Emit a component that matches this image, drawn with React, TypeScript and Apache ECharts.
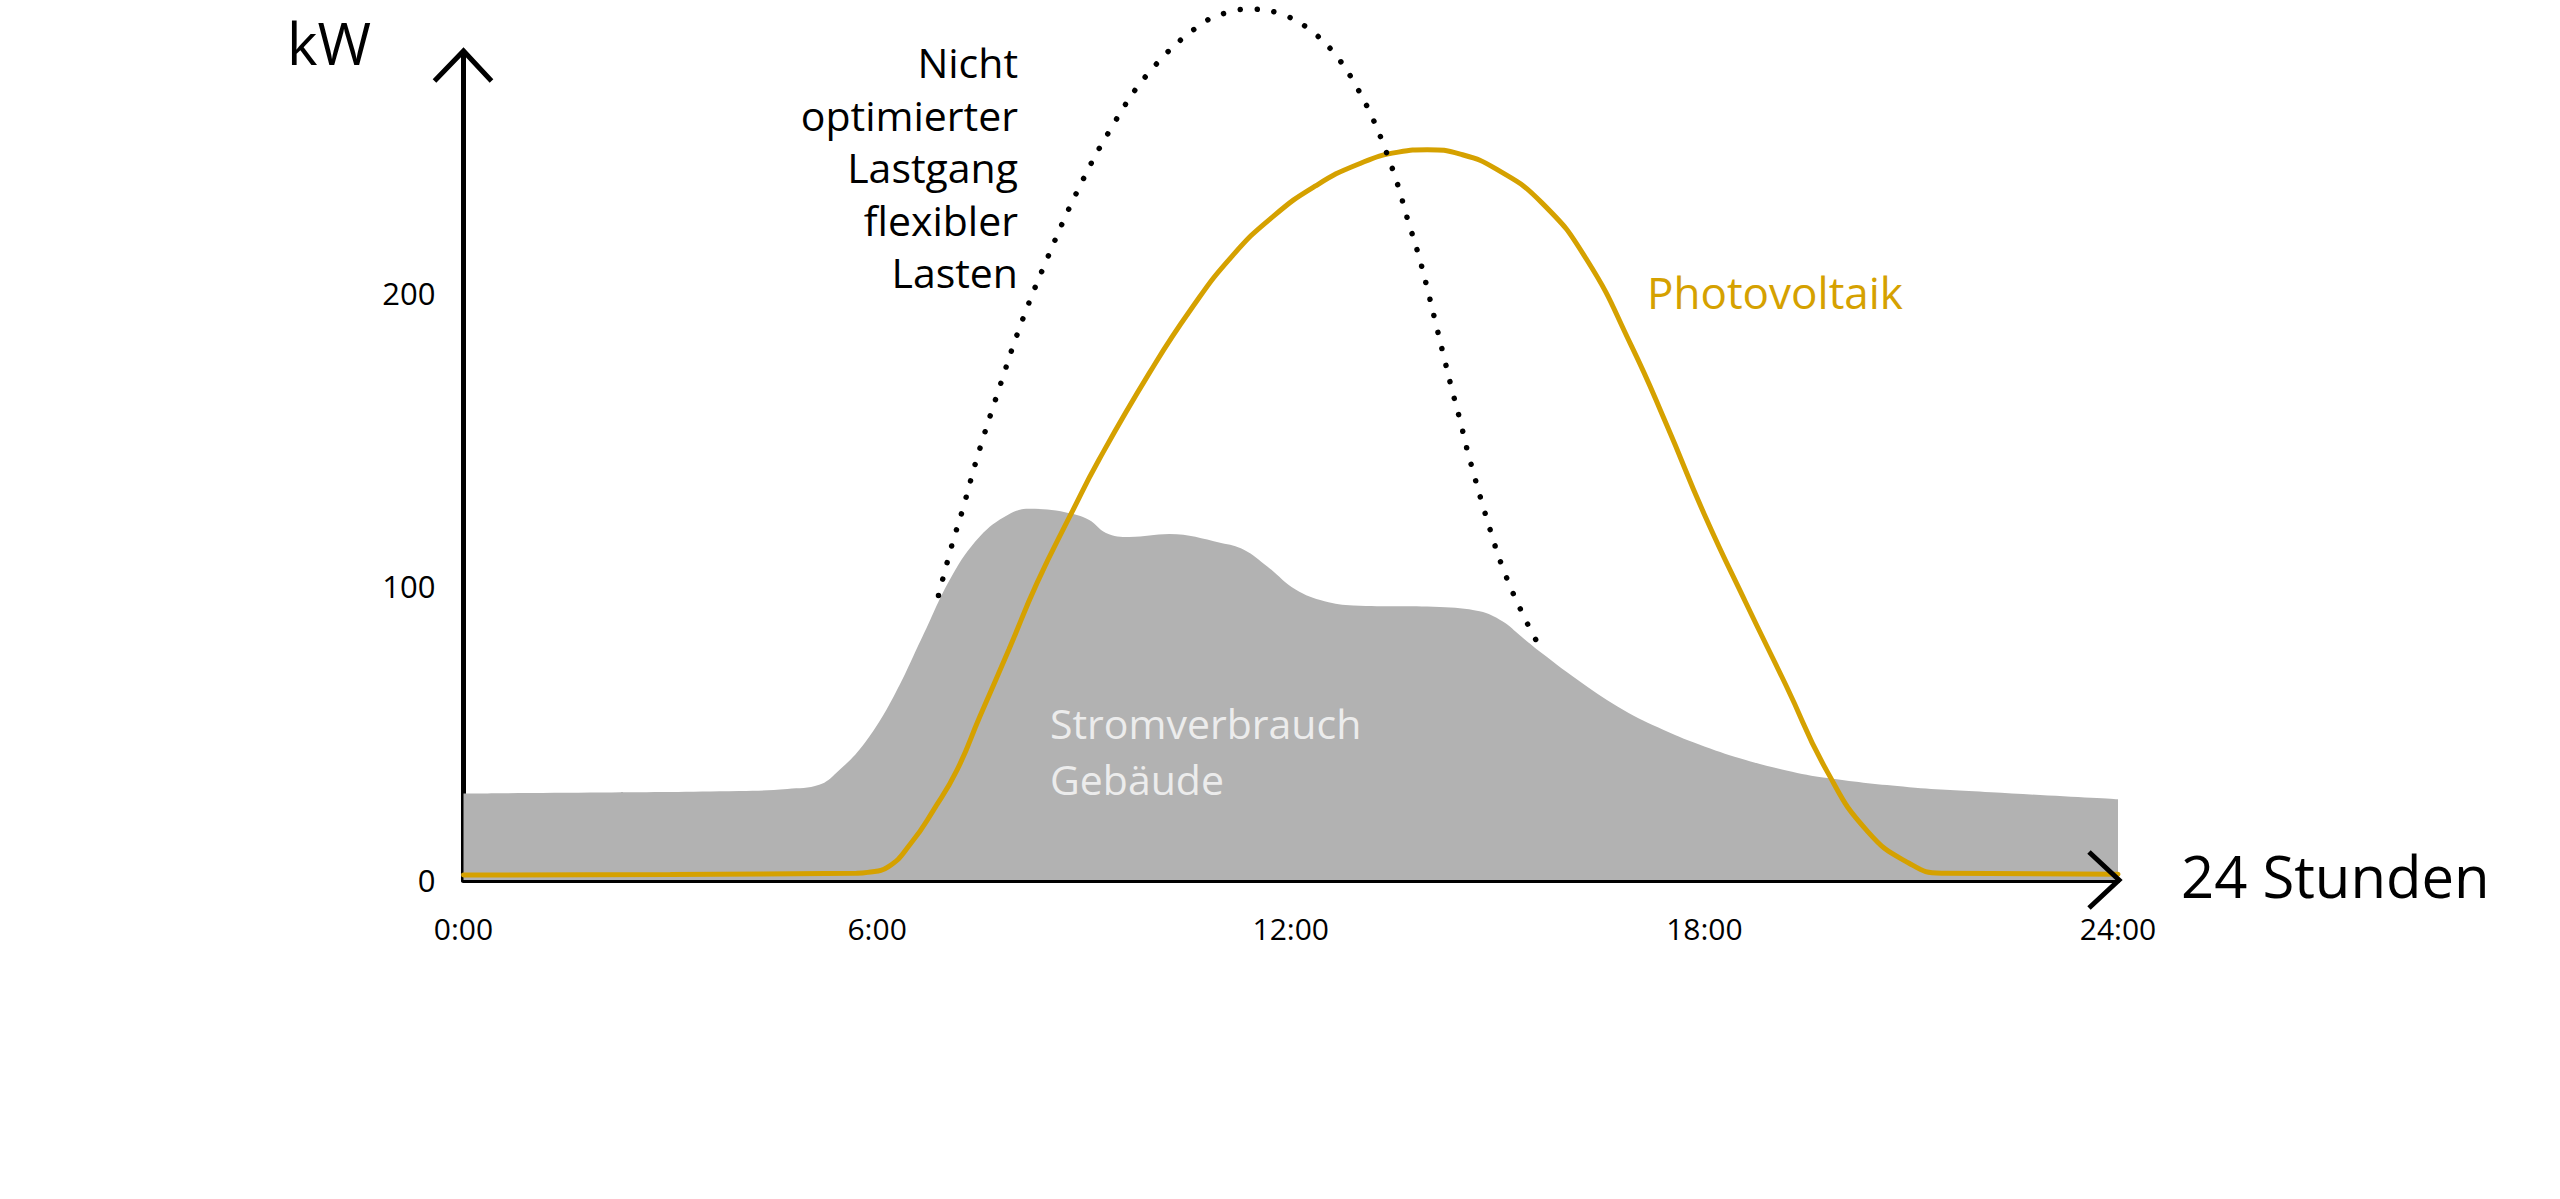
import React, { useEffect, useRef } from "react";
import * as echarts from "echarts";

// x axis: hours of the day
const hourTicks = [0, 6, 12, 18, 24];
const yTicks = [0, 100, 200];
const yMax = 282;

// Grey area: building consumption (kW)
const buildingHours = [0, 2, 4, 4.7, 5.16, 5.41, 5.82, 6.24, 6.66, 7.08, 7.49, 7.9, 8.2, 8.74, 9.07, 9.32, 9.66, 10.24, 10.99, 11.32, 11.66, 12.07, 12.49, 12.91, 14.16, 14.74, 15.07, 15.34, 15.64, 16.23, 16.82, 17.41, 18.0, 18.6, 19.19, 19.78, 20.97, 22.16, 24];
const buildingLoad = [29.5, 29.8, 30.3, 31.0, 32.4, 36.5, 46.7, 62.5, 83, 103.4, 117, 124.4, 126.4, 125.2, 122.7, 118.2, 116.8, 117.8, 114.8, 112.5, 106.8, 98.9, 94.9, 93.5, 93, 91.5, 88.1, 83, 77.3, 67, 58, 51.1, 45.5, 40.9, 37.3, 34.7, 31.6, 29.9, 27.5];

// Photovoltaik (kW)
const pvHours = [0, 3, 5.7, 5.86, 6.16, 6.49, 6.82, 7.16, 7.49, 7.91, 8.32, 8.82, 9.22, 9.95, 10.55, 11.15, 11.75, 12.36, 12.96, 13.56, 13.98, 14.46, 14.99, 15.64, 16.29, 16.94, 17.46, 18.0, 18.6, 19.19, 19.78, 20.37, 20.97, 21.44, 24];
const pvPower = [1.7, 1.9, 2.3, 2.6, 4.5, 12.5, 23.9, 37.5, 55.7, 78.4, 101.2, 125, 143.2, 172.7, 194.3, 212.5, 226.1, 236.4, 243.6, 247.9, 248.7, 247.2, 242, 230.7, 211.4, 182, 154.6, 124.5, 94.5, 66, 37, 16.5, 5.7, 2.3, 2];

// Non-optimised load profile of flexible loads (kW)
const flexHours = [6.89, 7.09, 7.24, 7.45, 7.76, 8.09, 8.47, 8.89, 9.37, 9.95, 10.7, 11.17, 11.42, 11.91, 12.34, 12.69, 12.96, 13.19, 13.38, 13.55, 13.69, 13.84, 13.97, 14.09, 14.21, 14.33, 14.46, 14.58, 14.86, 15.1, 15.41, 15.65];
const flexLoad = [96.9, 114.5, 126.1, 143.8, 166.7, 189.6, 211.8, 233.9, 255.1, 275.2, 291.5, 296, 296.6, 294.5, 288.4, 279.8, 269.9, 259.3, 248.3, 236.9, 225.4, 214, 202.5, 190.9, 179.3, 167.8, 156.2, 144.7, 121.8, 104.8, 88.4, 77.8];

const yUnit = "kW";
const xTitle = "24 Stunden";
const flexLabel = "Nicht\noptimierter\nLastgang\nflexibler\nLasten";
const pvLabel = "Photovoltaik";
const buildingLabel1 = "Stromverbrauch";
const buildingLabel2 = "Gebäude";

const FONT = "'Open Sans', sans-serif";
const PV_COLOR = "#d5a100";
const GREY = "#b2b2b2";

const zip = (xs: number[], ys: number[]) => xs.map((x, i) => [x, ys[i]]);

export default function App() {
  const ref = useRef<HTMLDivElement>(null);

  useEffect(() => {
    if (!ref.current) return;
    const chart = echarts.init(ref.current, undefined, { renderer: "svg" });
    chart.setOption({
      animation: false,
      backgroundColor: "#ffffff",
      grid: { left: 463.5, right: 442, top: 52, bottom: 319, containLabel: false },
      xAxis: {
        type: "value",
        min: hourTicks[0],
        max: hourTicks[hourTicks.length - 1],
        interval: 6,
        axisLine: { show: true, lineStyle: { color: "#000", width: 5 } },
        axisTick: { show: false },
        splitLine: { show: false },
        axisLabel: {
          color: "#000",
          fontFamily: FONT,
          fontSize: 30,
          margin: 33,
          formatter: (v: number) => `${v}:00`,
        },
      },
      yAxis: {
        type: "value",
        min: yTicks[0],
        max: yMax,
        interval: 100,
        axisLine: { show: true, lineStyle: { color: "#000", width: 5 } },
        axisTick: { show: false },
        splitLine: { show: false },
        axisLabel: {
          color: "#000",
          fontFamily: FONT,
          fontSize: 31,
          margin: 28,
          showMaxLabel: false,
        },
      },
      series: [
        {
          name: "Stromverbrauch Gebäude",
          type: "line",
          data: zip(buildingHours, buildingLoad),
          smooth: 0.4,
          symbol: "none",
          lineStyle: { width: 0, color: GREY },
          areaStyle: { color: GREY, opacity: 1 },
          z: 1,
        },
        {
          name: "Photovoltaik",
          type: "line",
          data: zip(pvHours, pvPower),
          smooth: 0.5,
          symbol: "none",
          lineStyle: { width: 5, color: PV_COLOR, cap: "round" },
          z: 3,
        },
        {
          name: "Nicht optimierter Lastgang flexibler Lasten",
          type: "line",
          data: zip(flexHours, flexLoad),
          smooth: 0.4,
          symbol: "none",
          clip: false,
          lineStyle: { width: 5.5, color: "#000", type: [0.01, 17], cap: "round" },
          z: 4,
        },
      ],
    });

    const top = chart.convertToPixel({ gridIndex: 0 }, [0, yMax]) as number[];
    const right = chart.convertToPixel({ gridIndex: 0 }, [24, 0]) as number[];

    chart.setOption({
      graphic: [
        {
          type: "polyline",
          shape: { points: [[top[0] - 29, top[1] + 29], [top[0], top[1] - 1], [top[0] + 28, top[1] + 29]] },
          style: { stroke: "#000", lineWidth: 5, fill: null },
          z: 10,
        },
        {
          type: "polyline",
          shape: { points: [[right[0] - 29, right[1] - 28], [right[0] + 1, right[1]], [right[0] - 29, right[1] + 28]] },
          style: { stroke: "#000", lineWidth: 5, fill: null },
          z: 10,
        },
        {
          type: "text",
          x: 287,
          y: 42,
          style: { text: yUnit, font: `58px ${FONT}`, fill: "#000", verticalAlign: "middle", align: "left" },
          z: 10,
        },
        {
          type: "text",
          x: 2181,
          y: 875,
          style: { text: xTitle, font: `58px ${FONT}`, fill: "#000", verticalAlign: "middle", align: "left" },
          z: 10,
        },
        {
          type: "text",
          x: 1018,
          y: 35.75,
          style: { text: flexLabel, font: `41px ${FONT}`, fill: "#000", verticalAlign: "top", align: "right", lineHeight: 52.5 },
          z: 10,
        },
        {
          type: "text",
          x: 1647,
          y: 292,
          style: { text: pvLabel, font: `44px ${FONT}`, fill: PV_COLOR, verticalAlign: "middle", align: "left" },
          z: 10,
        },
        {
          type: "text",
          x: 1050,
          y: 723,
          style: { text: buildingLabel1, font: `41px ${FONT}`, fill: "#ececec", verticalAlign: "middle", align: "left" },
          z: 10,
        },
        {
          type: "text",
          x: 1050,
          y: 779,
          style: { text: buildingLabel2, font: `41px ${FONT}`, fill: "#ececec", verticalAlign: "middle", align: "left" },
          z: 10,
        },
      ],
    });

    return () => chart.dispose();
  }, []);

  return (
    <div
      ref={ref}
      style={{ position: "fixed", left: 0, top: 0, width: 2560, height: 1199, background: "#fff" }}
    />
  );
}
